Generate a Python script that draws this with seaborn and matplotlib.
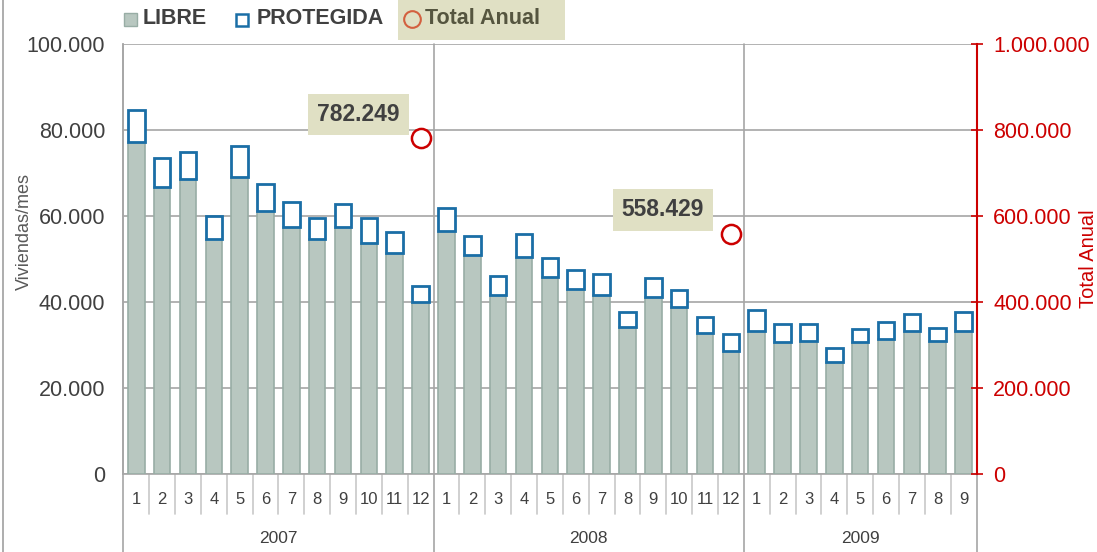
import numpy as np
import pandas as pd
import matplotlib
matplotlib.use("Agg")
import matplotlib.pyplot as plt
import matplotlib.transforms as mtransforms
from matplotlib.patches import Rectangle
from matplotlib.lines import Line2D
from matplotlib.ticker import FuncFormatter, MultipleLocator
import seaborn as sns

# ---------------- data ----------------
years = ["2007", "2008", "2009"]
months_per_year = [12, 12, 9]
libre = [77100, 66800, 68700, 54700, 69100, 61200, 57500, 54700, 57500, 53700, 51400, 39900,
         56600, 50900, 41600, 50500, 45800, 43000, 41600, 34300, 41200, 38900, 32800, 28600,
         33300, 30600, 31000, 26000, 30600, 31500, 33300, 31000, 33300]
total_mes = [84600, 73400, 74900, 59900, 76200, 67400, 63200, 59500, 62700, 59500, 56200, 43700,
             61800, 55300, 46000, 55800, 50200, 47400, 46400, 37600, 45600, 42800, 36400, 32600,
             38100, 34800, 34800, 29200, 33800, 35300, 37100, 33900, 37600]
protegida = [t - l for t, l in zip(total_mes, libre)]
total_anual_idx = [11, 23]
total_anual = [782249, 558429]
total_anual_labels = ["782.249", "558.429"]

month_labels = []
cat_ids = []
for y, n in zip(years, months_per_year):
    for m in range(1, n + 1):
        month_labels.append(str(m))
        cat_ids.append(f"{y}-{m:02d}")

df = pd.DataFrame({"cat": cat_ids, "libre": libre, "protegida": protegida})

# ---------------- style ----------------
sns.set_style("white")
plt.rcParams["font.family"] = ["Liberation Sans", "DejaVu Sans"]

C_LIBRE = "#b8c7c0"
C_LIBRE_EDGE = "#98ada5"
C_PROT = "#1a6ea6"
C_RED = "#cc0000"
C_GRID = "#a6a6a6"
C_TEXT = "#404040"
C_BEIGE = "#e0e0c4"

W, H = 1097, 552
fig = plt.figure(figsize=(W / 100, H / 100), dpi=100)
ax = fig.add_axes([123.3 / W, 78 / H, (976.5 - 123.3) / W, 430 / H])

n = len(cat_ids)
pos = np.arange(n)

sns.barplot(data=df, x="cat", y="libre", order=cat_ids, color=C_LIBRE, saturation=1,
            width=0.64, edgecolor=C_LIBRE_EDGE, linewidth=1.2, ax=ax, zorder=3)
ax.bar(pos, protegida, bottom=libre, width=0.64, facecolor="white",
       edgecolor=C_PROT, linewidth=2, zorder=4)

ax.set_xlim(-0.5, n - 0.5)
ax.set_ylim(0, 100000)
ax.yaxis.set_major_locator(MultipleLocator(20000))
fmt = FuncFormatter(lambda v, p: f"{v:,.0f}".replace(",", "."))
ax.yaxis.set_major_formatter(fmt)
ax.grid(axis="y", color=C_GRID, linewidth=1.2, zorder=0)
ax.set_axisbelow(True)
ax.tick_params(axis="y", length=0, pad=13, labelsize=15.5, labelcolor=C_TEXT)
ax.set_ylabel("Viviendas/mes", fontsize=13, color="#595959", va="center", ha="center")
ax.yaxis.set_label_coords(-0.1164, 0.5635)
ax.set_xlabel("")
ax.set_xticks(pos)
ax.set_xticklabels(month_labels, fontsize=12, color=C_TEXT)
ax.tick_params(axis="x", length=0, pad=13)
for s in ["top", "right"]:
    ax.spines[s].set_visible(False)
ax.spines["left"].set_color(C_GRID)
ax.spines["bottom"].set_color(C_GRID)
ax.spines["left"].set_linewidth(1.2)
ax.spines["bottom"].set_linewidth(1.2)

# year boundaries and separators
trans = mtransforms.blended_transform_factory(ax.transData, ax.transAxes)
bounds = np.cumsum([0] + months_per_year) - 0.5
for b in bounds:
    ax.plot([b, b], [1, -0.181], transform=trans, color=C_GRID, lw=1.2,
            clip_on=False, zorder=1)
for i in range(n - 1):
    x = i + 0.5
    if x in bounds:
        continue
    ax.plot([x, x], [0, -0.093], transform=trans, color="#c8c8c8", lw=1.2,
            clip_on=False, zorder=1)
for y, a, b in zip(years, bounds[:-1], bounds[1:]):
    ax.text((a + b) / 2, -0.149, y, transform=trans, ha="center", va="center",
            fontsize=12.5, color=C_TEXT)

# twin axis for annual totals
ax2 = ax.twinx()
ax2.set_ylim(0, 1000000)
ax2.yaxis.set_major_locator(MultipleLocator(200000))
ax2.yaxis.set_major_formatter(fmt)
ax2.tick_params(axis="y", direction="inout", length=8, width=1.2, color=C_RED,
                labelcolor=C_RED, labelsize=15.5, pad=8)
for s in ["top", "left", "bottom"]:
    ax2.spines[s].set_visible(False)
ax2.spines["right"].set_color(C_RED)
ax2.spines["right"].set_linewidth(1.5)
ax2.set_ylabel("Total Anual", fontsize=14.5, color=C_RED, va="center", ha="center")
ax2.yaxis.set_label_coords(1.1318, 0.5)
sns.scatterplot(x=total_anual_idx, y=total_anual, ax=ax2, marker="o", s=190,
                facecolor="white", edgecolor=C_RED, linewidth=1.8, zorder=5,
                legend=False)
offsets = [(-62, 23), (-68, 24)]
for xi, yv, lab, off in zip(total_anual_idx, total_anual, total_anual_labels, offsets):
    ax2.annotate(lab, xy=(xi, yv), xytext=off, textcoords="offset pixels",
                 ha="center", va="center", fontsize=16.5, fontweight="bold",
                 color=C_TEXT,
                 bbox=dict(boxstyle="square,pad=0.4", fc=C_BEIGE, ec="none"))

# ---------------- legend ----------------
def fx(px):
    return px / W

def fy(py):
    return (H - py) / H

fig.patches.append(Rectangle((fx(398), fy(40)), fx(565) - fx(398), fy(0) - fy(40),
                             transform=fig.transFigure, facecolor=C_BEIGE,
                             edgecolor="none", zorder=0))
fig.patches.append(Rectangle((fx(124), fy(26)), 13 / W, 13 / H, transform=fig.transFigure,
                             facecolor=C_LIBRE, edgecolor=C_LIBRE_EDGE, lw=1))
fig.text(fx(143), fy(19), "LIBRE", ha="left", va="center", fontsize=15.5,
         fontweight="bold", color=C_TEXT)
fig.patches.append(Rectangle((fx(236), fy(26)), 12 / W, 12 / H, transform=fig.transFigure,
                             facecolor="white", edgecolor=C_PROT, lw=1.8))
fig.text(fx(257), fy(19), "PROTEGIDA", ha="left", va="center", fontsize=15.5,
         fontweight="bold", color=C_TEXT)
fig.lines.append(Line2D([fx(412)], [fy(19)], transform=fig.transFigure, marker="o",
                        markersize=12, markerfacecolor="none", markeredgecolor="#d3603f",
                        markeredgewidth=1.5))
fig.text(fx(425), fy(19), "Total Anual", ha="left", va="center", fontsize=15.5,
         fontweight="bold", color="#55553f")

# left frame line
fig.lines.append(Line2D([fx(3), fx(3)], [0, 1], transform=fig.transFigure,
                        color="#a0a0a0", lw=1.2))

fig.savefig("out.png", dpi=100)
